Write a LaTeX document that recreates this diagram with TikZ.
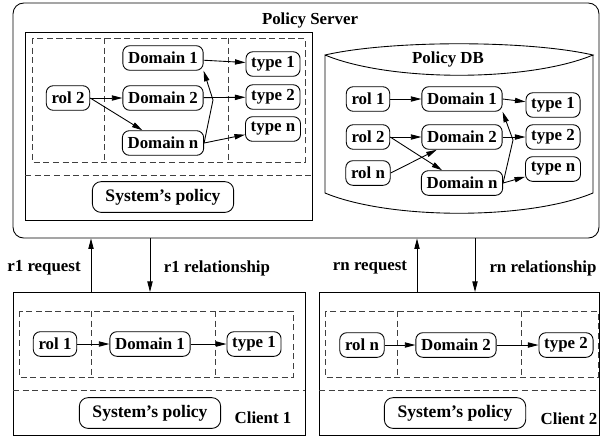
\documentclass[tikz,border=0pt]{standalone}
\usepackage{fontspec}
\setmainfont{Liberation Serif}
\usetikzlibrary{arrows.meta}

\tikzset{
  box/.style={draw,rounded corners=4pt,inner xsep=3pt,inner ysep=0pt,minimum height=14pt},
  sysbox/.style={draw,rounded corners=5pt,inner xsep=7.5pt,inner ysep=0pt,minimum height=17.5pt,
    font=\fontsize{10}{12}\selectfont\bfseries},
  arr/.style={-{Triangle[length=6pt,width=3pt]}},
  part/.style={draw=black!75,dash pattern=on 3.5pt off 2pt},
}

\begin{document}
\begin{tikzpicture}[x=0.02cm,y=-0.02cm,line width=.5pt,font=\fontsize{9.6}{11}\selectfont\bfseries]
      \useasboundingbox (0,0) rectangle (601,441);

      % policy server
      \node[draw,rounded corners=6pt,minimum width=11.72cm,minimum height=4.7cm] (server) at (306,120.5) {};
      \node (stitle) at (310,20) {Policy Server};
      \draw (25,32) rectangle (312,220);
      \draw[part] (25,175) -- (312,175);
      \draw[part] (32,38) rectangle (305,162);
      \draw[part] (104,38) -- (104,162);
      \draw[part] (228,38) -- (228,162);

      \node[box] (SR2) at (68,98) {rol 2};
      \node[box] (SD1) at (163,58) {Domain 1};
      \node[box] (SD2) at (163,98) {Domain 2};
      \node[box] (SDn) at (163,143) {Domain n};
      \node[box] (ST1) at (273,64) {type 1};
      \node[box] (ST2) at (273,97) {type 2};
      \node[box] (STn) at (273,129) {type n};
      \node[sysbox] (SSys) at (163,197) {System's policy};
      \coordinate (SK) at (213,100);

      \draw[arr] (SR2) -- (SD2);
      \draw[arr] (SR2.east) -- (SDn);
      \draw[arr] (SD1) -- (ST1);
      \draw[arr] (SD2) -- (ST2);
      \draw[arr] (SDn.east) -- (STn);
      \draw[arr] (SDn.east) -- (SK) -- (SD1.south east);

      % policy db
      \draw (325,55) .. controls (390,40) and (528,40) .. (593,55)
            .. controls (528,82) and (390,82) .. (325,55) -- (325,193)
            .. controls (390,220) and (528,220) .. (593,193) -- (593,55);
      \node (dbtitle) at (448,59) {Policy DB};

      \node[box] (DR1) at (368,99) {rol 1};
      \node[box] (DR2) at (368,137) {rol 2};
      \node[box] (DRn) at (368,173) {rol n};
      \node[box] (DD1) at (462,99) {Domain 1};
      \node[box] (DD2) at (462,137) {Domain 2};
      \node[box] (DDn) at (462,183) {Domain n};
      \node[box] (DT1) at (553,105) {type 1};
      \node[box] (DT2) at (553,137) {type 2};
      \node[box] (DTn) at (553,169) {type n};
      \coordinate (DK) at (513,140);

      \draw[arr] (DR1) -- (DD1);
      \draw[arr] (DR2) -- (DD2);
      \draw[arr] (DR2.east) -- (DDn);
      \draw[arr] (DRn.east) -- (DD2);
      \draw[arr] (DD1.east) -- (DT1);
      \draw[arr] (DD2) -- (DT2);
      \draw[arr] (DDn.east) -- (DTn);
      \draw[arr] (DDn.east) -- (DK) -- (DD1.south east);

      % client 1
      \node[draw,minimum width=5.84cm,minimum height=2.86cm] (client1) at (159,363.5) {};
      \draw[part] (19,311) rectangle (293,377);
      \draw[part] (91,311) -- (91,377);
      \draw[part] (215,311) -- (215,377);
      \draw[part] (13,390) -- (305,390);

      \node[box] (AR) at (55,344) {rol 1};
      \node[box] (AD) at (150,344) {Domain 1};
      \node[box] (AT) at (254,344) {type 1};
      \node[sysbox] (ASys) at (150,413) {System's policy};
      \node (AName) at (263,418) {Client 1};

      \draw[arr] (AR) -- (AD);
      \draw[arr] (AD) -- (AT);

      % client 2
      \node[draw,minimum width=5.6cm,minimum height=2.86cm] (client2) at (459,363.5) {};
      \draw[part] (325,311) rectangle (598,377);
      \draw[part] (397,311) -- (397,377);
      \draw[part] (521,311) -- (521,377);
      \draw[part] (319,390) -- (599,390);

      \node[box] (BR) at (362,345) {rol n};
      \node[box] (BD) at (456,345) {Domain 2};
      \node[box] (BT) at (566,345) {type 2};
      \node[sysbox] (BSys) at (455,413) {System's policy};
      \node (BName) at (569,419) {Client 2};

      \draw[arr] (BR) -- (BD);
      \draw[arr] (BD) -- (BT);

      % requests
      \coordinate (Q1) at (91,292);
      \coordinate (P1) at (150,292);
      \coordinate (Qn) at (417,292);
      \coordinate (Pn) at (475,292);
      \draw[arr] (Q1) -- (Q1 |- server.south);
      \draw[arr] (P1 |- server.south) -- (P1);
      \draw[arr] (Qn) -- (Qn |- server.south);
      \draw[arr] (Pn |- server.south) -- (Pn);
      \node (L1) at (44,268) {r1 request};
      \node (L2) at (217,268) {r1 relationship};
      \node (L3) at (370,268) {rn request};
      \node (L4) at (543,268) {rn relationship};
\end{tikzpicture}
\end{document}
